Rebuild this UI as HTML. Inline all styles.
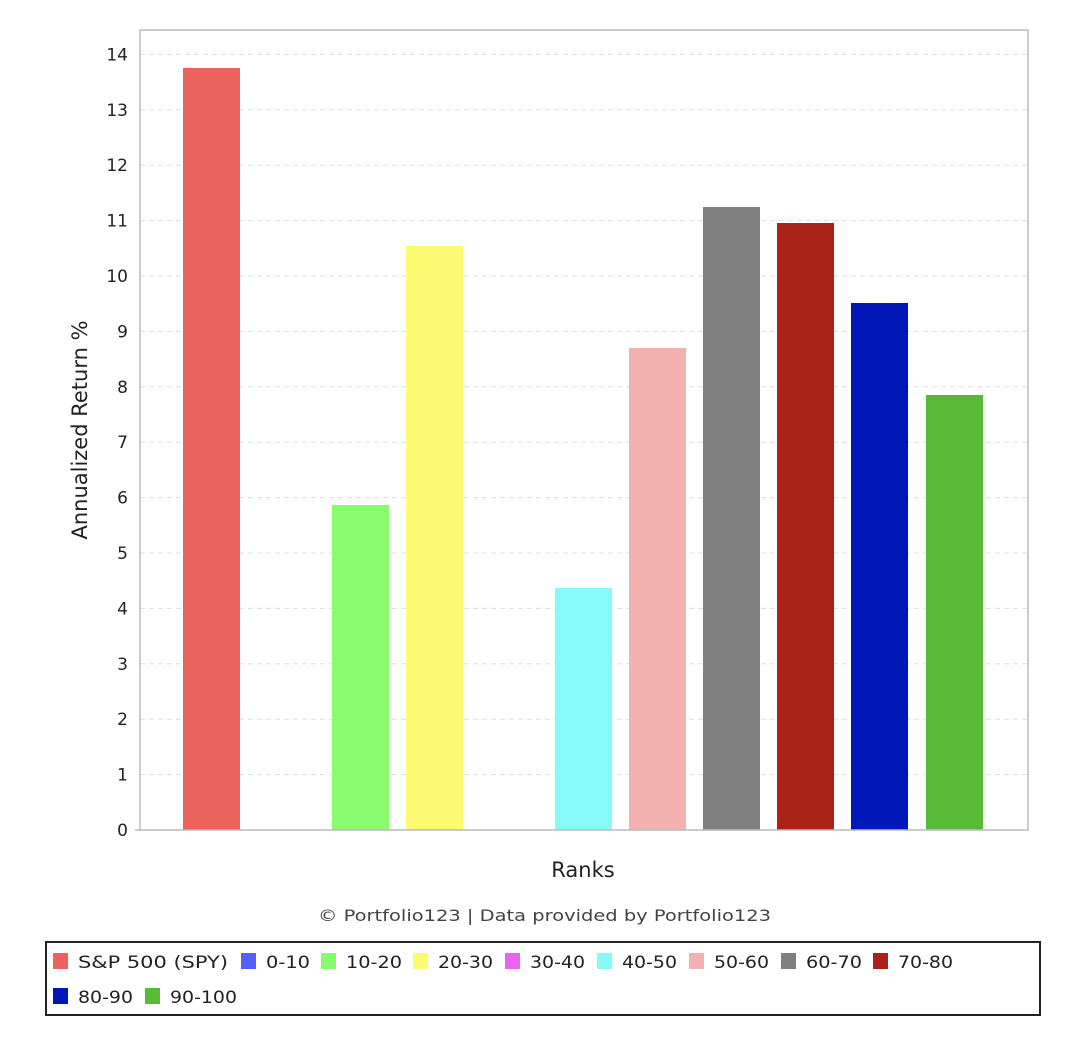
<!DOCTYPE html>
<html><head><style>
html,body{margin:0;padding:0;background:#fff;}
text{font-family:"DejaVu Sans","Liberation Sans",sans-serif;}
</style></head><body>
<svg width="1074" height="1052" xmlns="http://www.w3.org/2000/svg">
<rect width="1074" height="1052" fill="#fff"/>
<g stroke="#ddd" stroke-dasharray="5,4" stroke-width="1">
<line x1="140" x2="1028" y1="774.6" y2="774.6"/>
<line x1="140" x2="1028" y1="719.2" y2="719.2"/>
<line x1="140" x2="1028" y1="663.8" y2="663.8"/>
<line x1="140" x2="1028" y1="608.4" y2="608.4"/>
<line x1="140" x2="1028" y1="553" y2="553"/>
<line x1="140" x2="1028" y1="497.6" y2="497.6"/>
<line x1="140" x2="1028" y1="442.2" y2="442.2"/>
<line x1="140" x2="1028" y1="386.8" y2="386.8"/>
<line x1="140" x2="1028" y1="331.4" y2="331.4"/>
<line x1="140" x2="1028" y1="276" y2="276"/>
<line x1="140" x2="1028" y1="220.6" y2="220.6"/>
<line x1="140" x2="1028" y1="165.2" y2="165.2"/>
<line x1="140" x2="1028" y1="109.8" y2="109.8"/>
<line x1="140" x2="1028" y1="54.4" y2="54.4"/>
</g>
<g>
<rect x="183" y="68" width="57" height="762" fill="#ec625d"/>
<rect x="332" y="505" width="57" height="325" fill="#88fb6e"/>
<rect x="406" y="246" width="57" height="584" fill="#fefb72"/>
<rect x="555" y="588" width="57" height="242" fill="#86f9f9"/>
<rect x="629" y="348" width="57" height="482" fill="#f3b2b0"/>
<rect x="703" y="207" width="57" height="623" fill="#808080"/>
<rect x="777" y="223" width="57" height="607" fill="#ab2218"/>
<rect x="851" y="303" width="57" height="527" fill="#0018b8"/>
<rect x="926" y="395" width="57" height="435" fill="#57bb37"/>
</g>
<rect x="140" y="30" width="888" height="800" fill="none" stroke="#bbb" stroke-width="1.5"/>
<g stroke="#999"><line x1="135" x2="140" y1="830" y2="830"/></g>
<g font-size="17" fill="#222" text-anchor="end">
<text x="128" y="836">0</text><text x="128" y="780.6">1</text><text x="128" y="725.2">2</text>
<text x="128" y="669.8">3</text><text x="128" y="614.4">4</text><text x="128" y="559">5</text>
<text x="128" y="503.6">6</text><text x="128" y="448.2">7</text><text x="128" y="392.8">8</text>
<text x="128" y="337.4">9</text><text x="128" y="282">10</text><text x="128" y="226.6">11</text>
<text x="128" y="171.2">12</text><text x="128" y="115.8">13</text><text x="128" y="60.4">14</text>
</g>
<text transform="translate(87,430) rotate(-90)" font-size="21" fill="#222" text-anchor="middle">Annualized Return %</text>
<text x="583" y="877" font-size="21" fill="#222" text-anchor="middle">Ranks</text>
<text x="318" y="921" font-size="16" fill="#444" textLength="453" lengthAdjust="spacingAndGlyphs">© Portfolio123 | Data provided by Portfolio123</text>
<rect x="46" y="942" width="994" height="73" fill="none" stroke="#222" stroke-width="2"/>
<g font-size="17" fill="#222">
<rect x="53" y="953" width="15" height="16" fill="#ec625d"/><text x="78" y="968" textLength="150" lengthAdjust="spacingAndGlyphs">S&amp;P 500 (SPY)</text>
<rect x="241" y="953" width="15" height="16" fill="#5560f8"/><text x="266" y="968" textLength="44" lengthAdjust="spacingAndGlyphs">0-10</text>
<rect x="321" y="953" width="15" height="16" fill="#88fb6e"/><text x="346" y="968" textLength="56" lengthAdjust="spacingAndGlyphs">10-20</text>
<rect x="413" y="953" width="15" height="16" fill="#fefb72"/><text x="438" y="968" textLength="55" lengthAdjust="spacingAndGlyphs">20-30</text>
<rect x="505" y="953" width="15" height="16" fill="#ea62f0"/><text x="530" y="968" textLength="55" lengthAdjust="spacingAndGlyphs">30-40</text>
<rect x="597" y="953" width="15" height="16" fill="#86f9f9"/><text x="622" y="968" textLength="55" lengthAdjust="spacingAndGlyphs">40-50</text>
<rect x="689" y="953" width="15" height="16" fill="#f3b2b0"/><text x="714" y="968" textLength="55" lengthAdjust="spacingAndGlyphs">50-60</text>
<rect x="781" y="953" width="15" height="16" fill="#808080"/><text x="806" y="968" textLength="56" lengthAdjust="spacingAndGlyphs">60-70</text>
<rect x="873" y="953" width="15" height="16" fill="#ab2218"/><text x="898" y="968" textLength="55" lengthAdjust="spacingAndGlyphs">70-80</text>
<rect x="53" y="988" width="15" height="16" fill="#0018b8"/><text x="78" y="1003" textLength="55" lengthAdjust="spacingAndGlyphs">80-90</text>
<rect x="145" y="988" width="15" height="16" fill="#57bb37"/><text x="170" y="1003" textLength="67" lengthAdjust="spacingAndGlyphs">90-100</text>
</g>
</svg>
</body></html>
